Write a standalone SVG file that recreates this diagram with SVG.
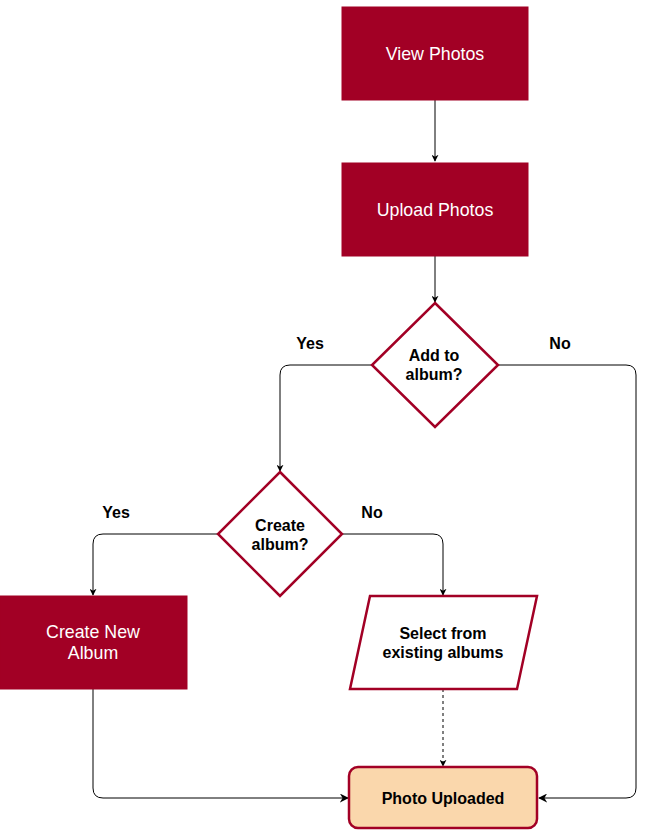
<svg xmlns="http://www.w3.org/2000/svg" width="647" height="831" viewBox="0 0 647 831">
<defs>
<style>
.fill{fill:#a20025;stroke:#a20025;stroke-width:1}
.outline{fill:#ffffff;stroke:#a20025;stroke-width:2.5}
.final{fill:#fad7ac;stroke:#a20025;stroke-width:2.5}
.wt{font-family:"Liberation Sans",Arial,sans-serif;font-size:17.8px;fill:#ffffff;text-anchor:middle}
.bt{font-family:"Liberation Sans",Arial,sans-serif;font-size:16px;font-weight:bold;fill:#000000;text-anchor:middle}
.lbl{font-family:"Liberation Sans",Arial,sans-serif;font-size:16px;font-weight:bold;fill:#000000;text-anchor:middle}
.edge{fill:none;stroke:#000000;stroke-width:1}
.dash{stroke-dasharray:3 3}
</style>
<marker id="arr" viewBox="0 0 10 10" refX="9" refY="5" markerWidth="7" markerHeight="7" orient="auto" markerUnits="userSpaceOnUse">
<path d="M0,0 L10,5 L0,10 L3,5 Z" fill="#000000"/>
</marker>
<marker id="arrb" viewBox="0 0 10 10" refX="9" refY="5" markerWidth="9" markerHeight="9" orient="auto" markerUnits="userSpaceOnUse">
<path d="M0,0 L10,5 L0,10 L3,5 Z" fill="#000000"/>
</marker>
</defs>
<g id="connectors">
<path class="edge" d="M435,100 V161" marker-end="url(#arr)"/>
<path class="edge" d="M435,256 V302" marker-end="url(#arr)"/>
<path class="edge" d="M372,365 H290 Q280,365 280,375 V471" marker-end="url(#arr)"/>
<path class="edge" d="M498,365 H626 Q636,365 636,375 V788 Q636,798 626,798 H539" marker-end="url(#arrb)"/>
<path class="edge" d="M218,534 H103 Q93,534 93,544 V595" marker-end="url(#arr)"/>
<path class="edge" d="M342,534 H433 Q443,534 443,544 V595" marker-end="url(#arr)"/>
<path class="edge dash" d="M443,689 V766" marker-end="url(#arr)"/>
<path class="edge" d="M93,689 V788 Q93,798 103,798 H348" marker-end="url(#arrb)"/>
</g>
<g id="label-yes-1"><text class="lbl" x="310" y="349">Yes</text></g>
<g id="label-no-1"><text class="lbl" x="560" y="349">No</text></g>
<g id="label-yes-2"><text class="lbl" x="116" y="518">Yes</text></g>
<g id="label-no-2"><text class="lbl" x="372" y="518">No</text></g>
<g id="view-photos">
<rect class="fill" x="342" y="7" width="186" height="93"/>
<text class="wt" x="435" y="60">View Photos</text>
</g>
<g id="upload-photos">
<rect class="fill" x="342" y="163" width="186" height="93"/>
<text class="wt" x="435" y="216">Upload Photos</text>
</g>
<g id="add-to-album">
<polygon class="outline" points="435,303 498,365 435,427 372,365"/>
<text class="bt" x="434" y="361">Add to</text>
<text class="bt" x="434" y="380">album?</text>
</g>
<g id="create-album">
<polygon class="outline" points="280,472 342,534 280,596 218,534"/>
<text class="bt" x="280" y="531">Create</text>
<text class="bt" x="280" y="550">album?</text>
</g>
<g id="create-new-album">
<rect class="fill" x="0" y="596" width="187" height="93"/>
<text class="wt" x="93" y="638">Create New</text>
<text class="wt" x="93" y="659">Album</text>
</g>
<g id="select-existing">
<polygon class="outline" points="370,596 537,596 517,689 350,689"/>
<text class="bt" x="443" y="639">Select from</text>
<text class="bt" x="443" y="658">existing albums</text>
</g>
<g id="photo-uploaded">
<rect class="final" x="349" y="767" width="188" height="61" rx="9" ry="9"/>
<text class="bt" x="443" y="804">Photo Uploaded</text>
</g>
</svg>
